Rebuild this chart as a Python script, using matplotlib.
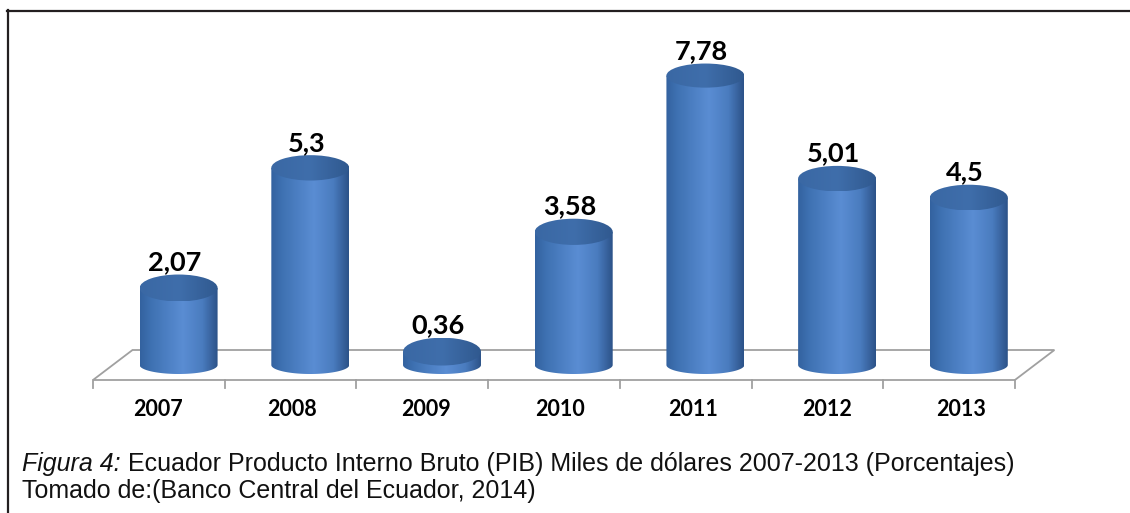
import numpy as np
import matplotlib.pyplot as plt
from matplotlib.colors import LinearSegmentedColormap
from matplotlib.patches import PathPatch, Ellipse, Polygon
from matplotlib.path import Path
from matplotlib.lines import Line2D

years = ['2007', '2008', '2009', '2010', '2011', '2012', '2013']
pib = [2.07, 5.3, 0.36, 3.58, 7.78, 5.01, 4.5]
labels = ['2,07', '5,3', '0,36', '3,58', '7,78', '5,01', '4,5']

W, H = 1130, 513
fig = plt.figure(figsize=(W / 100, H / 100), dpi=100)
ax = fig.add_axes([93 / W, (H - 390) / H, 968 / W, 360 / H])
k = 37.2  # px per unit
ylim = ((365 - 390) / k, (365 - 30) / k)
ax.set_xlim(-0.5, 6.85)
ax.set_ylim(*ylim)
ax.axis('off')

# 3D look parameters (data units)
depth_x = 0.30
floor_y = 15 / k
a = 0.296          # cylinder half width
shift = depth_x / 2

body_cmap = LinearSegmentedColormap.from_list('body', [
    (0.0, '#33629F'), (0.15, '#3F72B3'), (0.55, '#5A8DD3'),
    (0.8, '#4A7CBF'), (1.0, '#2C5288')])
top_cmap = LinearSegmentedColormap.from_list('top', [
    (0.0, '#3A68A4'), (0.5, '#3F6EAB'), (1.0, '#30598F')])
grad = np.linspace(0, 1, 256).reshape(1, -1)

# floor
n = len(years)
floor = Polygon([(-0.5, -floor_y), (n - 0.5, -floor_y),
                 (n - 0.5 + depth_x, floor_y), (-0.5 + depth_x, floor_y)],
                closed=True, fill=False, edgecolor='#A0A0A0', lw=1.3, zorder=1)
ax.add_patch(floor)
for j in range(n + 1):
    ax.plot([j - 0.5, j - 0.5], [-floor_y, -floor_y - 8 / k],
            color='#A0A0A0', lw=1.3, zorder=1, clip_on=False)

b_bot = 9 / k
for i, v in enumerate(pib):
    c = i + shift
    b_top = (14 - 0.25 * v) / k
    t = np.linspace(np.pi, 2 * np.pi, 60)
    verts = [(c - a, v)] + list(zip(c + a * np.cos(t), b_bot * np.sin(t))) + [(c + a, v), (c - a, v)]
    clip = PathPatch(Path(verts), transform=ax.transData, facecolor='none', edgecolor='none')
    ax.add_patch(clip)
    im = ax.imshow(grad, cmap=body_cmap, extent=[c - a, c + a, -b_bot, v],
                   aspect='auto', zorder=2, interpolation='bilinear')
    im.set_clip_path(clip)

    top = Ellipse((c, v), 2 * a, 2 * b_top, transform=ax.transData,
                  facecolor='none', edgecolor='none')
    ax.add_patch(top)
    im2 = ax.imshow(grad, cmap=top_cmap, extent=[c - a, c + a, v - b_top, v + b_top],
                    aspect='auto', zorder=3, interpolation='bilinear')
    im2.set_clip_path(top)

    ax.text(c - 0.03, v + b_top + 0.12, labels[i], ha='center', va='baseline',
            fontsize=19.5, fontweight='bold', family='Lato', color='black', zorder=4)
    ax.text(-0.005 + i * 1.016, -45 / k, years[i], ha='center', va='center',
            fontsize=15.5, fontweight='bold', family='Lato', color='black', clip_on=False)

ax.set_xlim(-0.5, 6.85)
ax.set_ylim(*ylim)

# caption
cap_size = 18
t1 = fig.text(22 / W, 1 - 471 / H, 'Figura 4:', style='italic', family='Liberation Sans',
              fontsize=cap_size, va='baseline', color='#111111')
r = fig.canvas.get_renderer()
bb = t1.get_window_extent(renderer=r)
fig.text(bb.x1 / W, 1 - 471 / H,
         ' Ecuador Producto Interno Bruto (PIB) Miles de dólares 2007-2013 (Porcentajes)',
         family='Liberation Sans', fontsize=cap_size, va='baseline', color='#111111')
fig.text(22 / W, 1 - 498 / H, 'Tomado de:(Banco Central del Ecuador, 2014)',
         family='Liberation Sans', fontsize=cap_size, va='baseline', color='#111111')

# frame lines
fig.add_artist(Line2D([7 / W, 1], [1 - 10.5 / H, 1 - 10.5 / H], transform=fig.transFigure,
                      color='#231F20', lw=1.6))
fig.add_artist(Line2D([7.5 / W, 7.5 / W], [0, 1 - 10 / H], transform=fig.transFigure,
                      color='#231F20', lw=1.6))

fig.savefig('out.png', dpi=100)
